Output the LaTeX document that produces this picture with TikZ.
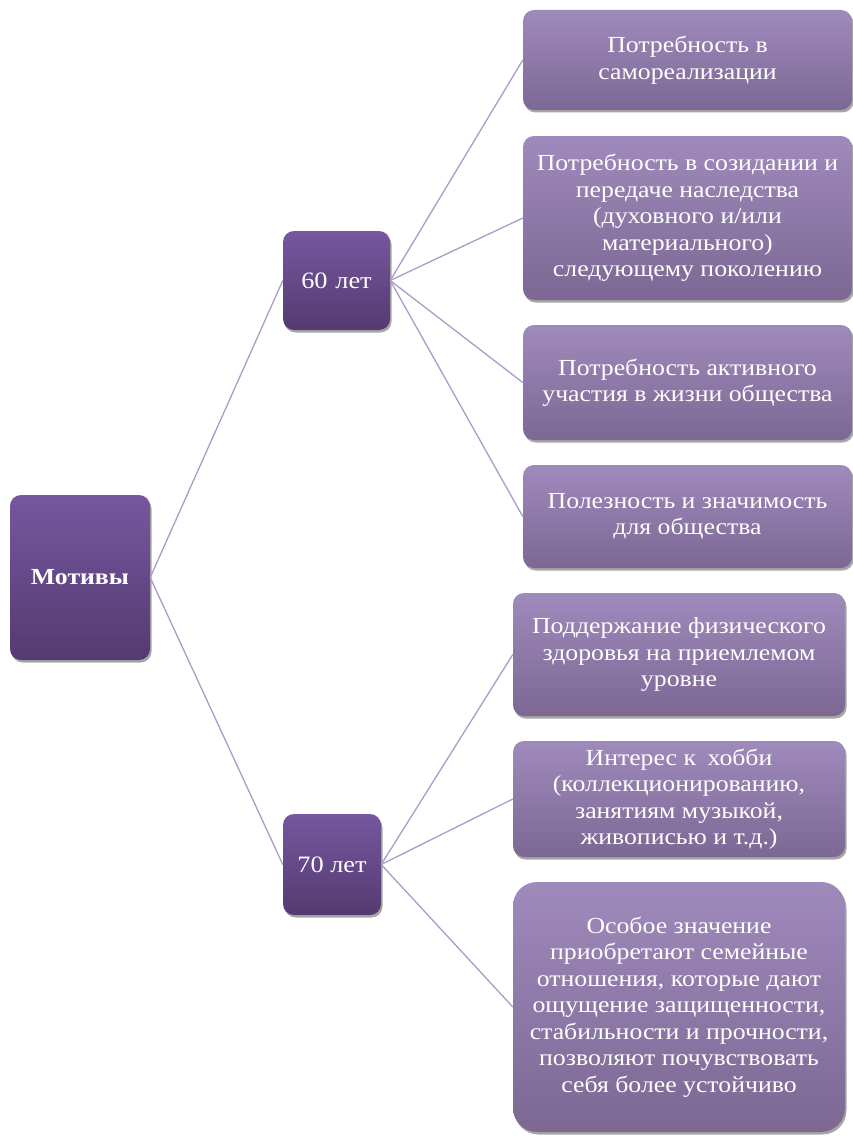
\documentclass[tikz,border=0pt]{standalone}
\usepackage{fontspec}
\setmainfont{Liberation Serif}[FakeStretch=1.12]
\usetikzlibrary{shadows}
\definecolor{darkTop}{HTML}{7657A0}
\definecolor{darkBot}{HTML}{553A70}
\definecolor{leafTop}{HTML}{9F8ABC}
\definecolor{leafBot}{HTML}{7C6893}
\definecolor{linkC}{HTML}{A99CC9}
\begin{document}
\begin{tikzpicture}[x=1pt,y=-1pt,
  box/.style={rounded corners=11pt, draw=none, text=white, align=center, inner sep=0pt,
    drop shadow={shadow xshift=1.5pt,shadow yshift=-2.5pt,opacity=0.35,fill=black}},
  dark/.style={box, top color=darkTop, bottom color=darkBot, font=\fontsize{23.5}{27}\selectfont},
  leaf/.style={box, top color=leafTop, bottom color=leafBot, font=\fontsize{23}{26.5}\selectfont},
  tdown/.style={execute at begin node={\rule{0pt}{#1}}},
  link/.style={draw=linkC, line width=1.3pt}]
\useasboundingbox (0,0) rectangle (852,1137);
% root and ages
\node[dark, minimum width=140pt, minimum height=165pt, font=\fontsize{23}{27}\selectfont\bfseries] (m) at (80,577.5) {Мотивы};
\node[dark, minimum width=107pt, minimum height=99pt] (a60) at (336.5,280.5) {60\,\,лет};
\node[dark, minimum width=98pt, minimum height=101pt] (a70) at (332,864.5) {70 лет};
% leaves of 60
\node[leaf, tdown=20pt, minimum width=329pt, minimum height=100pt] (l1) at (687.5,60) {Потребность в\\самореализации};
\node[leaf, minimum width=329pt, minimum height=164pt] (l2) at (687.5,218) {Потребность в созидании и\\передаче наследства\\(духовного и/или\\материального)\\следующему поколению};
\node[leaf, minimum width=329pt, minimum height=115pt] (l3) at (687.5,382.5) {Потребность активного\\участия в жизни общества};
\node[leaf, minimum width=329pt, minimum height=103pt] (l4) at (687.5,516.5) {Полезность и значимость\\для общества};
% leaves of 70
\node[leaf, tdown=30pt, minimum width=332pt, minimum height=123pt] (l5) at (679,654.5) {Поддержание физического\\здоровья на приемлемом\\уровне};
\node[leaf, tdown=26pt, minimum width=332pt, minimum height=116pt] (l6) at (679,799) {Интерес к\,\,\,хобби\\(коллекционированию,\\занятиям музыкой,\\живописью и т.д.)};
\node[leaf, tdown=24pt, rounded corners=24pt, minimum width=332pt, minimum height=250pt] (l7) at (679,1007) {Особое значение\\приобретают семейные\\отношения, которые дают\\ощущение защищенности,\\стабильности и прочности,\\позволяют почувствовать\\себя более устойчиво};
% connectors
\draw[link] (m.east) -- (a60.west);
\draw[link] (m.east) -- (a70.west);
\foreach \t in {l1,l2,l3,l4} \draw[link] (a60.east) -- (\t.west);
\foreach \t in {l5,l6,l7} \draw[link] (a70.east) -- (\t.west);
\end{tikzpicture}
\end{document}
